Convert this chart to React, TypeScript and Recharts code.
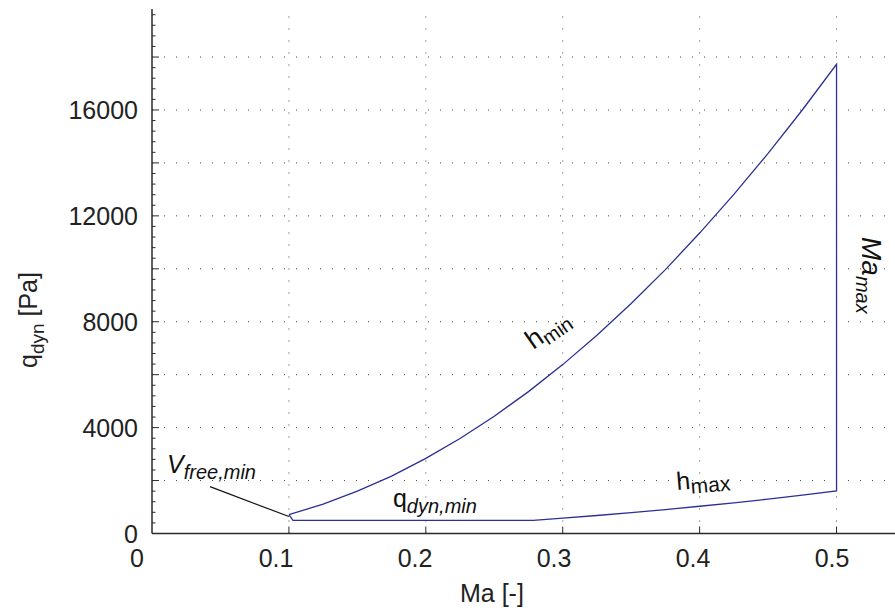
import React from 'react';
import { LineChart, Line, XAxis, YAxis, ReferenceLine, ReferenceDot } from 'recharts';

// flight envelope boundary (Ma, q_dyn in Pa)
const hMinMa = [0.1, 0.125, 0.15, 0.175, 0.2, 0.225, 0.25, 0.275, 0.3, 0.325, 0.35, 0.375, 0.4, 0.425, 0.45, 0.475, 0.5];
const hMinQ = [710, 1110, 1600, 2170, 2840, 3590, 4430, 5360, 6380, 7490, 8690, 9970, 11350, 12810, 14360, 16000, 17725];
const hMaxMa = [0.5, 0.475, 0.45, 0.425, 0.4, 0.375, 0.35, 0.325, 0.3, 0.2785];
const hMaxQ = [1605, 1450, 1300, 1160, 1030, 905, 790, 680, 578, 495];
const qMinMa = [0.2785, 0.103];
const qMinQ = [495, 495];

// leader line for the V_free,min label
const leaderMa = [0.0424, 0.1];
const leaderQ = [1770, 640];

const xTicks = [0, 0.1, 0.2, 0.3, 0.4, 0.5];
const yLabelTicks = [0, 4000, 8000, 12000, 16000];
const yMinorStep = 400;
const yMax = 19815;
const gridX = [0.1, 0.2, 0.3, 0.4, 0.5];
const gridY = [2000, 4000, 6000, 8000, 10000, 12000, 14000, 16000, 18000];

const envelope = [
  ...hMinMa.map((m, i) => ({ ma: m, q: hMinQ[i] })),
  ...hMaxMa.map((m, i) => ({ ma: m, q: hMaxQ[i] })),
  ...qMinMa.map((m, i) => ({ ma: m, q: qMinQ[i] })),
  { ma: hMinMa[0], q: hMinQ[0] },
];
const leader = leaderMa.map((m, i) => ({ ma: m, q: leaderQ[i] }));

const yTicks: number[] = [];
for (let v = 0; v <= yMax; v += yMinorStep) yTicks.push(v);

const FONT = '"Liberation Sans", Arial, sans-serif';
const BLUE = '#2b2f96';
const AXIS = '#2a2a2a';
const SUB = 20;

function YTick(props: any) {
  const { x, y, payload } = props;
  const v = payload.value;
  const major = v % 2000 === 0;
  return (
    <g>
      <line x1={x} x2={x + (major ? 7 : 3.5)} y1={y} y2={y} stroke={AXIS} strokeWidth={1} />
      {yLabelTicks.includes(v) && (
        <text x={x - 14} y={y} dy="0.36em" textAnchor="end" fontSize={25} fill="#222" fontFamily={FONT}>
          {v}
        </text>
      )}
    </g>
  );
}

function XTick(props: any) {
  const { x, y, payload } = props;
  const v = payload.value;
  return (
    <g>
      {v > 0 && <line x1={x} x2={x} y1={y} y2={y - 7} stroke={AXIS} strokeWidth={1} />}
      <text x={x - 15 + 21 * v} y={y + 33.5} textAnchor="middle" fontSize={25} fill="#222" fontFamily={FONT}>
        {v}
      </text>
    </g>
  );
}

const note = (render: (x: number, y: number) => React.ReactNode) => (p: any) => {
  const vb = p.viewBox || {};
  return <g>{render(vb.x, vb.y)}</g>;
};

export default function App() {
  return (
    <div style={{ position: 'absolute', left: 0, top: 0, width: 895, height: 608, background: '#fff' }}>
      <LineChart
        width={895}
        height={608}
        data={envelope}
        margin={{ top: 9, right: 0, left: 92, bottom: 24.5 }}
      >
        {gridX.map((g) => (
          <ReferenceLine key={'gx' + g} x={g} stroke="#444" strokeDasharray="1 11" strokeWidth={1} />
        ))}
        {gridY.map((g) => (
          <ReferenceLine key={'gy' + g} y={g} stroke="#444" strokeDasharray="1 11" strokeWidth={1} />
        ))}
        <XAxis
          dataKey="ma"
          type="number"
          domain={[0, 0.5427]}
          allowDataOverflow
          ticks={xTicks}
          interval={0}
          height={50}
          tickSize={0}
          tickMargin={0}
          tickLine={false}
          tick={XTick}
          axisLine={{ stroke: AXIS, strokeWidth: 1.5 }}
        />
        <YAxis
          type="number"
          domain={[0, yMax]}
          allowDataOverflow
          ticks={yTicks}
          interval={0}
          width={60}
          tickSize={0}
          tickMargin={0}
          tickLine={false}
          tick={YTick}
          axisLine={{ stroke: AXIS, strokeWidth: 1.5 }}
        />
        <Line
          dataKey="q"
          type="linear"
          stroke={BLUE}
          strokeWidth={1.3}
          dot={false}
          activeDot={false}
          isAnimationActive={false}
        />
        <Line
          data={leader}
          dataKey="q"
          type="linear"
          stroke="#111"
          strokeWidth={1.2}
          dot={false}
          activeDot={false}
          isAnimationActive={false}
        />
        <ReferenceDot
          x={0.2784}
          y={6930}
          r={0}
          fill="none"
          stroke="none"
          label={note((x, y) => (
            <text x={x} y={y} transform={`rotate(-35 ${x} ${y})`} fontSize={27} fontFamily={FONT} fill="#111">
              h<tspan dy={5} fontSize={SUB}>min</tspan>
            </text>
          ))}
        />
        <ReferenceDot
          x={0.3835}
          y={1643}
          r={0}
          fill="none"
          stroke="none"
          label={note((x, y) => (
            <text x={x} y={y} transform={`rotate(-5 ${x} ${y})`} fontSize={25} fontFamily={FONT} fill="#111">
              h<tspan dy={5} fontSize={SUB + 1}>max</tspan>
            </text>
          ))}
        />
        <ReferenceDot
          x={0.176}
          y={1001}
          r={0}
          fill="none"
          stroke="none"
          label={note((x, y) => (
            <text x={x} y={y} fontSize={25} fontFamily={FONT} fill="#111">
              q<tspan dy={6} fontSize={SUB} fontStyle="italic">dyn,min</tspan>
            </text>
          ))}
        />
        <ReferenceDot
          x={0.011}
          y={2286}
          r={0}
          fill="none"
          stroke="none"
          label={note((x, y) => (
            <text x={x} y={y} fontSize={25} fontFamily={FONT} fontStyle="italic" fill="#111">
              V<tspan dy={6} fontSize={SUB}>free,min</tspan>
            </text>
          ))}
        />
        <ReferenceDot
          x={0.5186}
          y={11201}
          r={0}
          fill="none"
          stroke="none"
          label={note((x, y) => (
            <text x={x} y={y} transform={`rotate(90 ${x} ${y})`} fontSize={28} fontFamily={FONT} fontStyle="italic" fill="#111">
              Ma<tspan dy={6} fontSize={SUB}>max</tspan>
            </text>
          ))}
        />
      </LineChart>
      <svg
        width={895}
        height={608}
        style={{ position: 'absolute', left: 0, top: 0, pointerEvents: 'none' }}
      >
        <text x={460} y={602} fontSize={25} fontFamily={FONT} fill="#222">
          Ma [-]
        </text>
        <text x={37} y={368} transform="rotate(-90 37 368)" fontSize={25} fontFamily={FONT} fill="#222">
          q<tspan dy={7} fontSize={19}>dyn</tspan>
          <tspan dy={-7}> [Pa]</tspan>
        </text>
      </svg>
    </div>
  );
}
